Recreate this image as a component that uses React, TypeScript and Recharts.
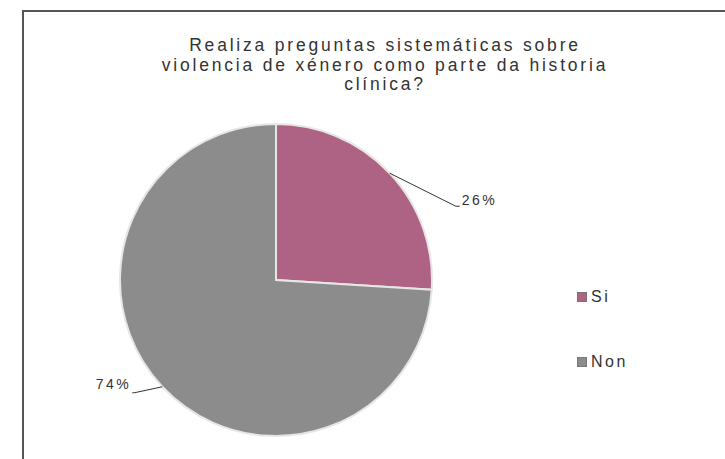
import React from "react";
import { PieChart, Pie, Cell, Legend } from "recharts";

const categories = ["Si", "Non"];
const values = [26, 74];
const colors = ["#AE6284", "#8C8C8C"];
const titleLines = [
  "Realiza preguntas sistemáticas sobre",
  "violencia de xénero como parte da historia",
  "clínica?",
];

const data = categories.map((name, i) => ({ name, value: values[i] }));

const FONT = "'Liberation Sans', Arial, sans-serif";
const RAD = Math.PI / 180;

const renderLabel = (props: any) => {
  const { cx, cy, outerRadius, midAngle, index, value } = props;
  const ex = cx + outerRadius * Math.cos(-midAngle * RAD);
  const ey = cy + outerRadius * Math.sin(-midAngle * RAD);
  const right = Math.cos(-midAngle * RAD) >= 0;
  const mx = right ? ex + 66 : ex - 28;
  const my = right ? ey + 33 : ey + 6;
  const tx = right ? mx + 6 : mx - 3;
  return (
    <g key={`lbl-${index}`}>
      <polyline
        points={`${ex},${ey} ${mx},${my} ${right ? mx + 4 : mx - 2},${my}`}
        fill="none"
        stroke="#333"
        strokeWidth={1}
      />
      <text
        x={tx}
        y={my - (right ? 5 : 7)}
        textAnchor={right ? "start" : "end"}
        dominantBaseline="middle"
        fontFamily={FONT}
        fontSize={14}
        letterSpacing={2.5}
        fill="#333"
      >
        {`${value}%`}
      </text>
    </g>
  );
};

const LegendContent = () => (
  <div style={{ fontFamily: FONT, fontSize: 16, color: "#333", letterSpacing: 2.5 }}>
    {categories.map((c, i) => (
      <div
        key={c}
        style={{ display: "flex", alignItems: "center", height: 20, marginBottom: i === 0 ? 45 : 0 }}
      >
        <span
          style={{
            display: "inline-block",
            width: 8,
            height: 8,
            background: colors[i],
            border: "1px solid #777",
            marginRight: 4,
          }}
        />
        <span>{c}</span>
      </div>
    ))}
  </div>
);

export default function App() {
  return (
    <div
      style={{
        position: "absolute",
        left: 0,
        top: 0,
        width: 725,
        height: 459,
        overflow: "hidden",
        background: "#fff",
      }}
    >
      <div
        style={{
          position: "absolute",
          left: 22,
          top: 10,
          width: 760,
          height: 500,
          border: "2px solid #555",
        }}
      />
      <div
        style={{
          position: "absolute",
          left: 0,
          top: 36,
          width: 770,
          textAlign: "center",
          fontFamily: FONT,
          fontSize: 17.5,
          letterSpacing: 2.8,
          lineHeight: "19.5px",
          color: "#333",
        }}
      >
        {titleLines.map((t) => (
          <div key={t}>{t}</div>
        ))}
      </div>
      <div style={{ position: "absolute", left: 0, top: 0 }}>
        <PieChart width={725} height={459}>
          <Pie
            data={data}
            dataKey="value"
            nameKey="name"
            cx={271}
            cy={275}
            outerRadius={156}
            startAngle={90}
            endAngle={-270}
            stroke="#e6e6e6"
            strokeWidth={2}
            label={renderLabel}
            labelLine={false}
            isAnimationActive={false}
          >
            {data.map((d, i) => (
              <Cell key={d.name} fill={colors[i]} />
            ))}
          </Pie>
          <Legend
            content={<LegendContent />}
            wrapperStyle={{ position: "absolute", left: 577, top: 287, width: 100 }}
          />
        </PieChart>
      </div>
    </div>
  );
}
